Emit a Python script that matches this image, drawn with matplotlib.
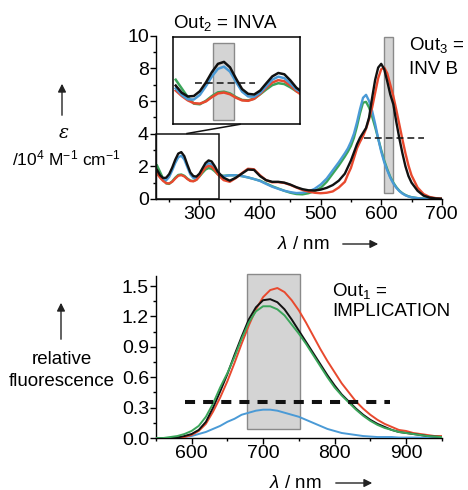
import matplotlib
matplotlib.use("Agg")
import matplotlib.pyplot as plt
from matplotlib.patches import Rectangle
from matplotlib.lines import Line2D

plt.rcParams['font.family'] = ['Liberation Sans', 'DejaVu Sans']
plt.rcParams['mathtext.fontset'] = 'custom'
plt.rcParams['mathtext.rm'] = 'Liberation Sans'
plt.rcParams['mathtext.it'] = 'Liberation Sans:italic'

# ---------------- absorption (top) ----------------
wl_abs = [230, 235, 240, 245, 250, 255, 260, 265, 270, 275, 280, 285, 290, 295, 300, 305, 310, 315, 320, 325, 330, 335, 340,
          350, 360, 370, 380, 390, 400, 410, 420, 430, 440, 450, 460, 470, 480, 490, 500, 510, 520, 530, 540,
          545, 550, 555, 560, 565, 570, 575, 580, 585, 590, 595, 600, 605, 610, 615, 620, 625, 630, 635, 640, 645, 650,
          660, 670, 680, 690, 700]

abs_black = [1.78, 1.45, 1.28, 1.30, 1.52, 1.92, 2.40, 2.78, 2.87, 2.62, 2.10, 1.62, 1.40, 1.37, 1.55, 1.88, 2.20, 2.36, 2.30, 2.02, 1.68, 1.48, 1.30,
             1.12, 1.30, 1.55, 1.80, 1.78, 1.40, 1.15, 1.05, 1.05, 1.00, 0.88, 0.72, 0.60, 0.53, 0.52, 0.57, 0.68, 0.85, 1.12, 1.55,
             1.95, 2.35, 2.85, 3.35, 3.75, 4.05, 4.35, 5.00, 6.20, 7.30, 8.05, 8.28, 7.95, 7.20, 6.40, 5.80, 4.70, 3.70, 2.80, 2.00, 1.40, 1.00,
             0.50, 0.20, 0.08, 0.03, 0.01]
abs_red = [1.55, 1.30, 1.10, 0.97, 0.95, 1.05, 1.25, 1.42, 1.46, 1.38, 1.22, 1.10, 1.08, 1.17, 1.40, 1.68, 1.92, 2.03, 1.98, 1.78, 1.52, 1.32, 1.15,
           1.05, 1.28, 1.58, 1.85, 1.82, 1.45, 1.15, 1.02, 1.03, 0.98, 0.86, 0.70, 0.55, 0.45, 0.38, 0.35, 0.38, 0.46, 0.70, 1.05,
           1.50, 1.90, 2.50, 3.10, 3.50, 3.85, 4.30, 4.90, 5.60, 6.50, 7.40, 7.95, 8.05, 7.70, 7.00, 6.30, 5.45, 4.55, 3.65, 2.80, 2.05, 1.45,
           0.70, 0.30, 0.12, 0.05, 0.02]
abs_blue = [1.65, 1.35, 1.15, 1.14, 1.35, 1.75, 2.20, 2.55, 2.65, 2.42, 1.95, 1.50, 1.28, 1.27, 1.45, 1.75, 2.05, 2.19, 2.12, 1.88, 1.60, 1.45, 1.40,
            1.45, 1.45, 1.40, 1.32, 1.22, 1.10, 0.92, 0.75, 0.62, 0.50, 0.42, 0.36, 0.38, 0.46, 0.62, 0.88, 1.25, 1.75, 2.25, 2.80,
            3.10, 3.50, 4.00, 4.70, 5.50, 6.20, 6.38, 6.00, 5.40, 4.60, 3.70, 2.90, 2.25, 1.75, 1.30, 0.95, 0.68, 0.48, 0.33, 0.22, 0.15, 0.10,
            0.05, 0.02, 0.01, 0.01, 0.00]
abs_green = [2.05, 1.65, 1.25, 0.95, 0.92, 1.08, 1.30, 1.47, 1.50, 1.42, 1.25, 1.12, 1.10, 1.18, 1.38, 1.60, 1.80, 1.89, 1.85, 1.70, 1.52, 1.42, 1.42,
             1.45, 1.45, 1.40, 1.32, 1.22, 1.12, 0.95, 0.78, 0.64, 0.50, 0.38, 0.30, 0.28, 0.35, 0.48, 0.68, 1.05, 1.55, 2.05, 2.60,
             2.90, 3.25, 3.75, 4.45, 5.25, 5.90, 5.95, 5.60, 5.05, 4.40, 3.70, 3.00, 2.35, 1.82, 1.35, 1.00, 0.72, 0.50, 0.35, 0.24, 0.16, 0.11,
             0.05, 0.02, 0.01, 0.00, 0.00]

# ---------------- fluorescence (bottom) ----------------
wl_fl = [550, 560, 570, 580, 590, 600, 610, 620, 630, 640, 650, 660, 670, 680, 690, 700, 710, 720, 730, 740, 750,
         760, 770, 780, 790, 800, 810, 820, 830, 840, 850, 860, 870, 880, 890, 900, 910, 920, 930, 940, 950]
fl_black = [0.00, 0.00, 0.00, 0.005, 0.02, 0.04, 0.08, 0.16, 0.30, 0.46, 0.63, 0.82, 1.00, 1.17, 1.29, 1.36, 1.37, 1.34, 1.27, 1.17, 1.06,
            0.95, 0.84, 0.73, 0.62, 0.52, 0.43, 0.36, 0.29, 0.23, 0.18, 0.14, 0.11, 0.08, 0.06, 0.05, 0.04, 0.03, 0.02, 0.015, 0.01]
fl_red = [0.00, 0.00, 0.00, 0.005, 0.01, 0.03, 0.07, 0.14, 0.26, 0.40, 0.56, 0.74, 0.93, 1.11, 1.27, 1.39, 1.46, 1.48, 1.44, 1.36, 1.26,
          1.14, 1.01, 0.88, 0.76, 0.65, 0.54, 0.45, 0.36, 0.29, 0.23, 0.18, 0.14, 0.11, 0.08, 0.07, 0.05, 0.04, 0.03, 0.02, 0.02]
fl_green = [0.00, 0.00, 0.01, 0.02, 0.04, 0.07, 0.12, 0.21, 0.34, 0.50, 0.64, 0.80, 0.98, 1.14, 1.25, 1.30, 1.30, 1.27, 1.21, 1.12, 1.03,
            0.93, 0.82, 0.71, 0.60, 0.50, 0.42, 0.35, 0.28, 0.22, 0.17, 0.13, 0.10, 0.08, 0.06, 0.05, 0.04, 0.03, 0.02, 0.015, 0.01]
fl_blue = [0.00, 0.00, 0.00, 0.005, 0.01, 0.02, 0.04, 0.06, 0.09, 0.12, 0.16, 0.19, 0.23, 0.25, 0.27, 0.28, 0.28, 0.27, 0.25, 0.23, 0.21,
           0.18, 0.15, 0.12, 0.09, 0.07, 0.05, 0.04, 0.03, 0.02, 0.015, 0.01, 0.01, 0.01, 0.005, 0.005, 0.005, 0.005, 0.005, 0.005, 0.005]

C_BLACK = '#111111'
C_RED = '#e8492e'
C_BLUE = '#4a9ad6'
C_GREEN = '#3aa55a'
GRAY_FC = '#d4d4d4'
GRAY_EC = '#8a8a8a'
FS_TICK = 14
FS = 13.5

fig = plt.figure(figsize=(4.68, 4.90), dpi=100)

def style_ax(ax):
    for s in ('top', 'right'):
        ax.spines[s].set_visible(False)
    for s in ('left', 'bottom'):
        ax.spines[s].set_linewidth(1.0)
    ax.tick_params(axis='both', which='major', direction='out', length=4, width=1.0, labelsize=FS_TICK, pad=1)
    ax.tick_params(axis='both', which='minor', direction='out', length=2.5, width=1.0)

# ---------- top axes ----------
ax1 = fig.add_axes([0.333, 0.594, 0.611, 0.333])
style_ax(ax1)
for y, c in ((abs_green, C_GREEN), (abs_blue, C_BLUE), (abs_red, C_RED), (abs_black, C_BLACK)):
    ax1.plot(wl_abs, y, color=c, lw=1.7)
ax1.set_xlim(228, 700)
ax1.set_ylim(0, 10)
ax1.set_xticks([300, 400, 500, 600, 700])
ax1.set_xticks([250, 350, 450, 550, 650], minor=True)
ax1.set_yticks([0, 2, 4, 6, 8, 10])
ax1.set_yticks([1, 3, 5, 7, 9], minor=True)
ax1.add_patch(Rectangle((605, 0.35), 15, 9.55, facecolor=GRAY_FC, edgecolor=GRAY_EC, lw=1.0, zorder=1))
ax1.plot([572, 670], [3.74, 3.74], color=C_BLACK, lw=1.1, dashes=(4.5, 2.6), zorder=5)
# zoom box
ax1.add_patch(Rectangle((228, 0), 105, 4.0, facecolor='none', edgecolor=C_BLACK, lw=1.1, zorder=6, clip_on=False))
fig.text(409 / 468, 1 - 45 / 490, r"Out$_3$ =", fontsize=FS, ha='left', va='center')
fig.text(409 / 468, 1 - 70 / 490, "INV B", fontsize=FS, ha='left', va='center')
fig.text(173 / 468, 1 - 23 / 490, r"Out$_2$ = INVA", fontsize=FS, ha='left', va='center')

# ---------- inset ----------
axi = fig.add_axes([173.3 / 468, 1 - 124.3 / 490, 126.7 / 468, 87 / 490])
for y, c in ((abs_green, C_GREEN), (abs_red, C_RED), (abs_blue, C_BLUE), (abs_black, C_BLACK)):
    axi.plot(wl_abs, y, color=c, lw=1.8)
axi.set_xlim(228, 333)
axi.set_ylim(0, 4)
axi.set_xticks([])
axi.set_yticks([])
for s in axi.spines.values():
    s.set_linewidth(1.1)
axi.add_patch(Rectangle((261, 0.2), 17, 3.55, facecolor=GRAY_FC, edgecolor=GRAY_EC, lw=1.0, zorder=1))
axi.plot([246, 296], [1.89, 1.89], color=C_BLACK, lw=1.1, dashes=(4.5, 2.6), zorder=5)
fig.add_artist(Line2D([187 / 468, 240 / 468], [1 - 133.5 / 490, 1 - 124.3 / 490], color=C_BLACK, lw=1.1))

# ---------- bottom axes ----------
ax2 = fig.add_axes([0.333, 0.106, 0.611, 0.331])
style_ax(ax2)
ax2.add_patch(Rectangle((677, 0.09), 75, 1.53, facecolor=GRAY_FC, edgecolor=GRAY_EC, lw=1.0, zorder=1, clip_on=False))
for y, c in ((fl_blue, C_BLUE), (fl_red, C_RED), (fl_black, C_BLACK), (fl_green, C_GREEN)):
    ax2.plot(wl_fl, y, color=c, lw=1.4, zorder=3)
ax2.plot([591, 877], [0.355, 0.355], color=C_BLACK, lw=2.9, dashes=(2.5, 2.0), zorder=4)
ax2.set_xlim(550, 950)
ax2.set_ylim(0, 1.6)
ax2.set_xticks([600, 700, 800, 900])
ax2.set_xticks([550, 650, 750, 850, 950], minor=True)
ax2.set_yticks([0.0, 0.3, 0.6, 0.9, 1.2, 1.5])
ax2.set_yticklabels(['0.0', '0.3', '0.6', '0.9', '1.2', '1.5'])
ax2.set_yticks([0.15, 0.45, 0.75, 1.05, 1.35], minor=True)
fig.text(332 / 468, 1 - 291 / 490, r"Out$_1$ =", fontsize=FS, ha='left', va='center')
fig.text(332 / 468, 1 - 312 / 490, "IMPLICATION", fontsize=FS, ha='left', va='center')

# ---------- axis labels with arrows ----------
def arrow(x0, y0, x1, y1):
    fig.add_artist(matplotlib.patches.FancyArrowPatch(
        (x0 / 468, 1 - y0 / 490), (x1 / 468, 1 - y1 / 490), transform=fig.transFigure,
        arrowstyle='-|>', mutation_scale=12, color='#222222', lw=1.0))

arrow(62, 118, 62, 81)
fig.text(64 / 468, 1 - 133 / 490, "ε", fontsize=FS, ha='center', va='center', family='DejaVu Serif', style='italic')
fig.text(66 / 468, 1 - 158 / 490, r"/10$^4$ M$^{-1}$ cm$^{-1}$", fontsize=12.5, ha='center', va='center')
arrow(61, 342, 61, 300)
fig.text(62 / 468, 1 - 359 / 490, "relative", fontsize=FS, ha='center', va='center')
fig.text(62 / 468, 1 - 381 / 490, "fluorescence", fontsize=FS, ha='center', va='center')

fig.text(303 / 468, 1 - 244 / 490, r"$\lambda$ / nm", fontsize=FS, ha='center', va='center')
arrow(340, 244, 381, 244)
fig.text(295 / 468, 1 - 483 / 490, r"$\lambda$ / nm", fontsize=FS, ha='center', va='center')
arrow(333, 483, 375, 483)

fig.savefig("out.png", dpi=100)
